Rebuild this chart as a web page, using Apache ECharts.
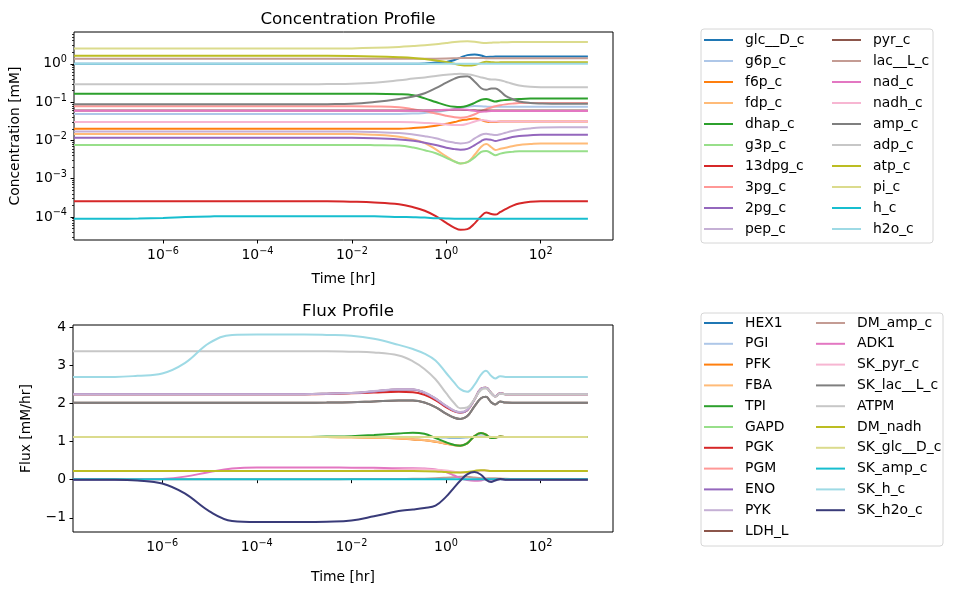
<!DOCTYPE html>
<html>
<head>
<meta charset="utf-8">
<title>Concentration / Flux Profile</title>
<script src="https://cdn.jsdelivr.net/npm/echarts@6.0.0/dist/echarts.min.js"></script>
<style>
html, body { margin: 0; padding: 0; background: #fff; }
#main { width: 954px; height: 590px; }
</style>
</head>
<body>
<div id="main"></div>
<script>
// time points [hr]
var time = [1.3e-8, 1e-7, 3e-7, 1e-6, 3e-6, 1e-5, 3e-5, 1e-4, 3e-4, 1e-3, 3e-3, 0.01, 0.03, 0.1, 0.2, 0.35, 0.6, 1, 1.5, 2, 2.8, 4, 5.5, 7, 9, 11, 14, 18, 25, 35, 60, 100, 250, 1000];

// concentrations [mM]
var glc = [1, 1, 1, 1, 1, 1, 1, 1, 1, 1, 1, 1, 1, 1, 1, 1.02, 1.08, 1.12, 1.25, 1.45, 1.68, 1.75, 1.65, 1.5, 1.52, 1.55, 1.55, 1.55, 1.55, 1.55, 1.55, 1.55, 1.55, 1.55];
var g6p = [0.049, 0.049, 0.049, 0.049, 0.049, 0.049, 0.049, 0.049, 0.049, 0.049, 0.049, 0.049, 0.049, 0.049, 0.05, 0.052, 0.055, 0.06, 0.066, 0.071, 0.076, 0.079, 0.078, 0.076, 0.075, 0.075, 0.075, 0.075, 0.075, 0.075, 0.075, 0.075, 0.075, 0.075];
var f6p = [0.02, 0.02, 0.02, 0.02, 0.02, 0.02, 0.02, 0.02, 0.02, 0.02, 0.02, 0.02, 0.02, 0.02, 0.021, 0.022, 0.024, 0.027, 0.03, 0.033, 0.035, 0.037, 0.034, 0.031, 0.03, 0.03, 0.031, 0.031, 0.031, 0.031, 0.031, 0.031, 0.031, 0.031];
var fdp = [0.0147, 0.0147, 0.0147, 0.0147, 0.0147, 0.0147, 0.0147, 0.0147, 0.0147, 0.0147, 0.0147, 0.0147, 0.014, 0.0125, 0.0105, 0.0085, 0.0058, 0.0038, 0.0028, 0.0025, 0.0027, 0.0042, 0.0068, 0.008, 0.0066, 0.0056, 0.006, 0.0064, 0.007, 0.0076, 0.008, 0.0083, 0.0083, 0.0083];
var dhap = [0.165, 0.165, 0.165, 0.165, 0.165, 0.165, 0.165, 0.165, 0.165, 0.165, 0.165, 0.165, 0.165, 0.16, 0.15, 0.125, 0.1, 0.082, 0.075, 0.074, 0.08, 0.095, 0.115, 0.12, 0.11, 0.103, 0.11, 0.113, 0.116, 0.12, 0.123, 0.123, 0.123, 0.123];
var g3p = [0.0076, 0.0076, 0.0076, 0.0076, 0.0076, 0.0076, 0.0076, 0.0076, 0.0076, 0.0076, 0.0076, 0.0076, 0.0075, 0.0073, 0.0065, 0.0055, 0.0046, 0.0035, 0.0028, 0.0025, 0.0027, 0.0036, 0.005, 0.0053, 0.0046, 0.0041, 0.0045, 0.0048, 0.005, 0.0052, 0.0052, 0.0052, 0.0052, 0.0052];
var dpg13 = [2.55e-4, 2.55e-4, 2.55e-4, 2.55e-4, 2.55e-4, 2.55e-4, 2.55e-4, 2.55e-4, 2.55e-4, 2.55e-4, 2.55e-4, 2.5e-4, 2.4e-4, 2.15e-4, 1.8e-4, 1.45e-4, 1.05e-4, 7e-5, 5.2e-5, 4.6e-5, 4.8e-5, 6.8e-5, 1.05e-4, 1.3e-4, 1.2e-4, 1.15e-4, 1.35e-4, 1.6e-4, 1.95e-4, 2.25e-4, 2.5e-4, 2.55e-4, 2.55e-4, 2.55e-4];
var pg3 = [0.078, 0.078, 0.078, 0.078, 0.078, 0.078, 0.078, 0.078, 0.078, 0.078, 0.078, 0.078, 0.077, 0.073, 0.065, 0.058, 0.05, 0.044, 0.04, 0.039, 0.041, 0.048, 0.058, 0.065, 0.072, 0.078, 0.083, 0.087, 0.091, 0.094, 0.095, 0.095, 0.095, 0.095];
var pg2 = [0.0117, 0.0117, 0.0117, 0.0117, 0.0117, 0.0117, 0.0117, 0.0117, 0.0117, 0.0117, 0.0117, 0.0117, 0.0114, 0.0106, 0.0097, 0.0087, 0.0076, 0.0064, 0.0059, 0.0057, 0.006, 0.0075, 0.0096, 0.0107, 0.0103, 0.0096, 0.0103, 0.011, 0.0122, 0.013, 0.0136, 0.014, 0.014, 0.014];
var pep = [0.017, 0.017, 0.017, 0.017, 0.017, 0.017, 0.017, 0.017, 0.017, 0.017, 0.017, 0.017, 0.0165, 0.0155, 0.0142, 0.0128, 0.0113, 0.0095, 0.0087, 0.0083, 0.0087, 0.0112, 0.014, 0.0148, 0.0142, 0.0138, 0.0145, 0.0158, 0.0175, 0.019, 0.0205, 0.0215, 0.022, 0.022];
var pyr = [0.06, 0.06, 0.06, 0.06, 0.06, 0.06, 0.06, 0.06, 0.06, 0.06, 0.06, 0.06, 0.06, 0.06, 0.06, 0.06, 0.061, 0.062, 0.063, 0.063, 0.062, 0.061, 0.06, 0.06, 0.06, 0.06, 0.06, 0.06, 0.06, 0.06, 0.06, 0.06, 0.06, 0.06];
var lac = [1.36, 1.36, 1.36, 1.36, 1.36, 1.36, 1.36, 1.36, 1.36, 1.36, 1.36, 1.36, 1.36, 1.36, 1.36, 1.36, 1.36, 1.37, 1.39, 1.41, 1.42, 1.42, 1.41, 1.4, 1.4, 1.4, 1.4, 1.4, 1.4, 1.4, 1.4, 1.4, 1.4, 1.4];
var nad = [0.059, 0.059, 0.059, 0.059, 0.059, 0.059, 0.059, 0.059, 0.059, 0.059, 0.059, 0.059, 0.059, 0.059, 0.0595, 0.06, 0.061, 0.0625, 0.0635, 0.064, 0.063, 0.059, 0.056, 0.057, 0.058, 0.058, 0.058, 0.058, 0.058, 0.058, 0.058, 0.058, 0.058, 0.058];
var nadh = [0.03, 0.03, 0.03, 0.03, 0.03, 0.03, 0.03, 0.03, 0.03, 0.03, 0.03, 0.03, 0.03, 0.03, 0.0295, 0.0285, 0.0275, 0.026, 0.025, 0.025, 0.027, 0.031, 0.034, 0.033, 0.031, 0.031, 0.031, 0.031, 0.031, 0.031, 0.031, 0.031, 0.031, 0.031];
var amp = [0.087, 0.087, 0.087, 0.087, 0.087, 0.087, 0.087, 0.087, 0.087, 0.087, 0.088, 0.09, 0.1, 0.12, 0.14, 0.17, 0.23, 0.32, 0.41, 0.46, 0.47, 0.34, 0.23, 0.21, 0.225, 0.225, 0.19, 0.145, 0.12, 0.104, 0.095, 0.092, 0.09, 0.09];
var adp = [0.29, 0.29, 0.29, 0.29, 0.29, 0.29, 0.29, 0.29, 0.29, 0.29, 0.295, 0.3, 0.32, 0.37, 0.41, 0.44, 0.48, 0.52, 0.54, 0.55, 0.53, 0.49, 0.44, 0.41, 0.39, 0.39, 0.37, 0.34, 0.3, 0.27, 0.25, 0.245, 0.245, 0.245];
var atp = [1.62, 1.62, 1.62, 1.62, 1.62, 1.62, 1.62, 1.62, 1.62, 1.62, 1.62, 1.6, 1.55, 1.48, 1.42, 1.33, 1.22, 1.12, 1.0, 0.93, 0.9, 0.93, 1.05, 1.12, 1.1, 1.08, 1.09, 1.1, 1.1, 1.1, 1.1, 1.1, 1.1, 1.1];
var pi = [2.5, 2.5, 2.5, 2.5, 2.5, 2.5, 2.5, 2.5, 2.5, 2.5, 2.5, 2.52, 2.6, 2.75, 2.9, 3.05, 3.25, 3.5, 3.7, 3.8, 3.85, 3.75, 3.55, 3.5, 3.55, 3.6, 3.62, 3.65, 3.68, 3.68, 3.68, 3.68, 3.68, 3.68];
var hc = [9.0e-5, 9.0e-5, 9.1e-5, 9.4e-5, 9.9e-5, 1.03e-4, 1.05e-4, 1.05e-4, 1.05e-4, 1.05e-4, 1.05e-4, 1.05e-4, 1.04e-4, 1.0e-4, 9.8e-5, 9.6e-5, 9.3e-5, 9.1e-5, 9.0e-5, 9.0e-5, 9.0e-5, 9.0e-5, 9.0e-5, 9.0e-5, 9.0e-5, 9.0e-5, 9.0e-5, 9.0e-5, 9.0e-5, 9.0e-5, 9.0e-5, 9.0e-5, 9.0e-5, 9.0e-5];
var h2o = [1, 1, 1, 1, 1, 1, 1, 1, 1, 1, 1, 1, 1, 1, 1, 1, 1, 1, 1, 1, 1, 1, 1, 1, 1, 1, 1, 1, 1, 1, 1, 1, 1, 1];

var concNames = ['glc__D_c', 'g6p_c', 'f6p_c', 'fdp_c', 'dhap_c', 'g3p_c', '13dpg_c', '3pg_c', '2pg_c', 'pep_c',
  'pyr_c', 'lac__L_c', 'nad_c', 'nadh_c', 'amp_c', 'adp_c', 'atp_c', 'pi_c', 'h_c', 'h2o_c'];
var concValues = [glc, g6p, f6p, fdp, dhap, g3p, dpg13, pg3, pg2, pep, pyr, lac, nad, nadh, amp, adp, atp, pi, hc, h2o];

// fluxes [mM/hr]
var hex1 = [1.12, 1.12, 1.12, 1.12, 1.12, 1.12, 1.12, 1.12, 1.12, 1.12, 1.12, 1.12, 1.12, 1.12, 1.12, 1.12, 1.115, 1.11, 1.105, 1.105, 1.11, 1.12, 1.125, 1.125, 1.12, 1.12, 1.12, 1.12, 1.12, 1.12, 1.12, 1.12, 1.12, 1.12];
var pgi = [1.12, 1.12, 1.12, 1.12, 1.12, 1.12, 1.12, 1.12, 1.12, 1.12, 1.12, 1.115, 1.11, 1.09, 1.06, 1.04, 1.0, 0.95, 0.91, 0.895, 0.95, 1.13, 1.2, 1.17, 1.1, 1.1, 1.12, 1.12, 1.12, 1.12, 1.12, 1.12, 1.12, 1.12];
var pfk = [1.12, 1.12, 1.12, 1.12, 1.12, 1.12, 1.12, 1.12, 1.12, 1.12, 1.115, 1.11, 1.1, 1.08, 1.05, 1.03, 0.99, 0.94, 0.9, 0.89, 0.95, 1.14, 1.22, 1.18, 1.09, 1.1, 1.13, 1.12, 1.12, 1.12, 1.12, 1.12, 1.12, 1.12];
var fba = [1.12, 1.12, 1.12, 1.12, 1.12, 1.12, 1.12, 1.12, 1.12, 1.12, 1.115, 1.11, 1.1, 1.08, 1.06, 1.04, 1.0, 0.945, 0.905, 0.89, 0.95, 1.14, 1.22, 1.18, 1.09, 1.1, 1.13, 1.12, 1.12, 1.12, 1.12, 1.12, 1.12, 1.12];
var tpi = [1.12, 1.12, 1.12, 1.12, 1.12, 1.12, 1.12, 1.12, 1.12, 1.12, 1.13, 1.14, 1.17, 1.21, 1.23, 1.2, 1.09, 0.98, 0.91, 0.89, 0.95, 1.14, 1.22, 1.18, 1.09, 1.1, 1.13, 1.12, 1.12, 1.12, 1.12, 1.12, 1.12, 1.12];
var gapd = [2.24, 2.24, 2.24, 2.24, 2.24, 2.24, 2.24, 2.24, 2.24, 2.24, 2.25, 2.27, 2.31, 2.36, 2.36, 2.28, 2.12, 1.93, 1.8, 1.76, 1.82, 2.1, 2.38, 2.41, 2.27, 2.18, 2.26, 2.24, 2.24, 2.24, 2.24, 2.24, 2.24, 2.24];
var pgk = [2.24, 2.24, 2.24, 2.24, 2.24, 2.24, 2.24, 2.24, 2.24, 2.24, 2.245, 2.26, 2.28, 2.3, 2.29, 2.22, 2.08, 1.9, 1.79, 1.76, 1.82, 2.1, 2.38, 2.41, 2.27, 2.18, 2.26, 2.24, 2.24, 2.24, 2.24, 2.24, 2.24, 2.24];
var pgm = [2.24, 2.24, 2.24, 2.24, 2.24, 2.24, 2.24, 2.24, 2.24, 2.24, 2.25, 2.27, 2.31, 2.36, 2.36, 2.28, 2.12, 1.93, 1.8, 1.76, 1.82, 2.1, 2.38, 2.41, 2.27, 2.18, 2.26, 2.24, 2.24, 2.24, 2.24, 2.24, 2.24, 2.24];
var eno = [2.24, 2.24, 2.24, 2.24, 2.24, 2.24, 2.24, 2.24, 2.24, 2.24, 2.25, 2.27, 2.31, 2.36, 2.36, 2.28, 2.12, 1.93, 1.8, 1.76, 1.82, 2.1, 2.38, 2.41, 2.27, 2.18, 2.26, 2.24, 2.24, 2.24, 2.24, 2.24, 2.24, 2.24];
var pyk = [2.24, 2.24, 2.24, 2.24, 2.24, 2.24, 2.24, 2.24, 2.24, 2.24, 2.25, 2.27, 2.32, 2.37, 2.37, 2.29, 2.13, 1.94, 1.81, 1.77, 1.83, 2.1, 2.38, 2.41, 2.27, 2.18, 2.26, 2.24, 2.24, 2.24, 2.24, 2.24, 2.24, 2.24];
var ldh = [2.016, 2.016, 2.016, 2.016, 2.016, 2.016, 2.016, 2.016, 2.016, 2.016, 2.02, 2.03, 2.05, 2.07, 2.07, 2.02, 1.9, 1.73, 1.62, 1.59, 1.66, 1.92, 2.13, 2.17, 2.03, 1.97, 2.05, 2.02, 2.016, 2.016, 2.016, 2.016, 2.016, 2.016];
var dmAmp = [0.014, 0.014, 0.014, 0.014, 0.014, 0.014, 0.014, 0.014, 0.014, 0.014, 0.014, 0.0145, 0.016, 0.019, 0.023, 0.027, 0.037, 0.052, 0.066, 0.074, 0.076, 0.055, 0.037, 0.034, 0.036, 0.036, 0.031, 0.023, 0.019, 0.017, 0.015, 0.015, 0.0145, 0.0145];
var adk1 = [0, 0, 0.005, 0.02, 0.08, 0.2, 0.29, 0.32, 0.32, 0.32, 0.32, 0.315, 0.31, 0.3, 0.3, 0.29, 0.27, 0.2, 0.11, 0.04, -0.01, -0.03, -0.02, 0.01, 0, -0.01, 0.01, 0, 0, 0, 0, 0, 0, 0];
var skPyr = [0.224, 0.224, 0.224, 0.224, 0.224, 0.224, 0.224, 0.224, 0.224, 0.224, 0.224, 0.23, 0.24, 0.26, 0.27, 0.27, 0.26, 0.24, 0.21, 0.19, 0.19, 0.21, 0.24, 0.24, 0.225, 0.224, 0.224, 0.224, 0.224, 0.224, 0.224, 0.224, 0.224, 0.224];
var skLac = [2.016, 2.016, 2.016, 2.016, 2.016, 2.016, 2.016, 2.016, 2.016, 2.016, 2.02, 2.03, 2.05, 2.07, 2.07, 2.02, 1.9, 1.73, 1.62, 1.59, 1.66, 1.92, 2.13, 2.17, 2.03, 1.97, 2.05, 2.02, 2.016, 2.016, 2.016, 2.016, 2.016, 2.016];
var atpm = [3.36, 3.36, 3.36, 3.36, 3.36, 3.36, 3.36, 3.36, 3.36, 3.36, 3.36, 3.35, 3.33, 3.25, 3.1, 2.9, 2.63, 2.27, 2.0, 1.87, 1.89, 2.11, 2.35, 2.39, 2.27, 2.17, 2.25, 2.24, 2.24, 2.24, 2.24, 2.24, 2.24, 2.24];
var dmNadh = [0.224, 0.224, 0.224, 0.224, 0.224, 0.224, 0.224, 0.224, 0.224, 0.224, 0.224, 0.224, 0.224, 0.224, 0.224, 0.222, 0.215, 0.2, 0.19, 0.19, 0.2, 0.23, 0.25, 0.24, 0.225, 0.224, 0.224, 0.224, 0.224, 0.224, 0.224, 0.224, 0.224, 0.224];
var skGlc = [1.12, 1.12, 1.12, 1.12, 1.12, 1.12, 1.12, 1.12, 1.12, 1.12, 1.12, 1.12, 1.12, 1.12, 1.12, 1.12, 1.12, 1.12, 1.12, 1.12, 1.12, 1.12, 1.12, 1.12, 1.12, 1.12, 1.12, 1.12, 1.12, 1.12, 1.12, 1.12, 1.12, 1.12];
var skAmp = [0.014, 0.014, 0.014, 0.014, 0.014, 0.014, 0.014, 0.014, 0.014, 0.014, 0.014, 0.014, 0.014, 0.014, 0.014, 0.014, 0.014, 0.014, 0.014, 0.014, 0.014, 0.014, 0.014, 0.014, 0.014, 0.014, 0.014, 0.014, 0.014, 0.014, 0.014, 0.014, 0.014, 0.014];
var skH = [2.69, 2.69, 2.72, 2.78, 3.05, 3.58, 3.79, 3.8, 3.8, 3.8, 3.79, 3.77, 3.69, 3.53, 3.42, 3.3, 3.12, 2.8, 2.54, 2.37, 2.3, 2.48, 2.75, 2.85, 2.72, 2.65, 2.71, 2.69, 2.69, 2.69, 2.69, 2.69, 2.69, 2.69];
var skH2o = [0, 0, -0.02, -0.1, -0.36, -0.83, -1.08, -1.11, -1.11, -1.11, -1.1, -1.07, -0.96, -0.82, -0.78, -0.74, -0.68, -0.45, -0.2, -0.03, 0.14, 0.2, 0.13, 0, -0.06, -0.02, 0.02, 0, 0, 0, 0, 0, 0, 0];

var fluxNames = ['HEX1', 'PGI', 'PFK', 'FBA', 'TPI', 'GAPD', 'PGK', 'PGM', 'ENO', 'PYK', 'LDH_L',
  'DM_amp_c', 'ADK1', 'SK_pyr_c', 'SK_lac__L_c', 'ATPM', 'DM_nadh', 'SK_glc__D_c', 'SK_amp_c', 'SK_h_c', 'SK_h2o_c'];
var fluxValues = [hex1, pgi, pfk, fba, tpi, gapd, pgk, pgm, eno, pyk, ldh,
  dmAmp, adk1, skPyr, skLac, atpm, dmNadh, skGlc, skAmp, skH, skH2o];

// axis ticks
var timeTicks = [1e-6, 1e-4, 1e-2, 1, 100];
var concTicks = [1e-4, 1e-3, 1e-2, 1e-1, 1];
var fluxTicks = [-1, 0, 1, 2, 3, 4];

var colors = ['#1f77b4', '#aec7e8', '#ff7f0e', '#ffbb78', '#2ca02c', '#98df8a', '#d62728', '#ff9896',
  '#9467bd', '#c5b0d5', '#8c564b', '#c49c94', '#e377c2', '#f7b6d2', '#7f7f7f', '#c7c7c7',
  '#bcbd22', '#dbdb8d', '#17becf', '#9edae5', '#393b79'];

var FONT = 'DejaVu Sans';

// minor ticks of the log concentration axis (2..9 x 10^n)
var concMin = 2.5e-5, concMax = 6.75;
var minorTicks = [];
for (var d = -5; d <= 0; d++) {
  for (var m = 2; m <= 9; m++) {
    var v = m * Math.pow(10, d);
    if (v >= concMin && v <= concMax) minorTicks.push(v);
  }
}

function powLabel(v) {
  var e = Math.round(Math.log10(v));
  return '{b|10}{s|' + (e < 0 ? '\u2212' + (-e) : e) + '}';
}
var powRich = {
  b: { fontSize: 13.9, fontFamily: FONT, color: '#000' },
  s: { fontSize: 9.7, fontFamily: FONT, color: '#000', padding: [0, 0, 8, 0] }
};

function timeAxis(grid, gap) {
  return {
    type: 'log', gridIndex: grid, min: 1.3e-8, max: 3400,
    name: 'Time [hr]', nameLocation: 'middle', nameGap: gap,
    nameTextStyle: { fontSize: 13.9, fontFamily: FONT, color: '#000' },
    axisLine: { show: false },
    axisTick: { customValues: timeTicks, length: 3.5, lineStyle: { color: '#000', width: 1 } },
    axisLabel: { customValues: timeTicks, margin: 6, formatter: powLabel, rich: powRich },
    splitLine: { show: false }
  };
}

var series = [];
concNames.forEach(function (n, i) {
  series.push({
    name: n, type: 'line', xAxisIndex: 0, yAxisIndex: 0,
    data: time.map(function (t, j) { return [t, concValues[i][j]]; }),
    showSymbol: false, smooth: 0.4,
    lineStyle: { width: 2 }, color: colors[i]
  });
});
fluxNames.forEach(function (n, i) {
  series.push({
    name: n, type: 'line', xAxisIndex: 1, yAxisIndex: 2,
    data: time.map(function (t, j) { return [t, fluxValues[i][j]]; }),
    showSymbol: false, smooth: 0.4,
    lineStyle: { width: 2 }, color: colors[i]
  });
});

function legend(names, left, top, gap) {
  return {
    data: names, orient: 'vertical', left: left, top: top, padding: 0,
    icon: 'rect', itemWidth: 29, itemHeight: 2, itemGap: gap,
    selectedMode: false,
    textStyle: { fontSize: 13.9, fontFamily: FONT, color: '#000', lineHeight: 14, padding: [0, 0, 0, 7] }
  };
}

var chart = echarts.init(document.getElementById('main'), null, { renderer: 'canvas' });
var option = {
  animation: false,
  backgroundColor: '#fff',
  title: [
    { text: 'Concentration Profile', left: 343, top: 6, textAlign: 'center',
      textStyle: { fontSize: 16.7, fontWeight: 'normal', fontFamily: FONT, color: '#000' } },
    { text: 'Flux Profile', left: 343, top: 298, textAlign: 'center',
      textStyle: { fontSize: 16.7, fontWeight: 'normal', fontFamily: FONT, color: '#000' } }
  ],
  grid: [
    { left: 73, top: 32, width: 540, height: 208, show: true, borderColor: '#000', borderWidth: 1, backgroundColor: 'transparent' },
    { left: 73, top: 325, width: 540, height: 207, show: true, borderColor: '#000', borderWidth: 1, backgroundColor: 'transparent' }
  ],
  xAxis: [timeAxis(0, 32), timeAxis(1, 38)],
  yAxis: [
    {
      type: 'log', gridIndex: 0, position: 'left', min: concMin, max: concMax,
      name: 'Concentration [mM]', nameLocation: 'middle', nameGap: 52, nameRotate: 90,
      nameTextStyle: { fontSize: 13.9, fontFamily: FONT, color: '#000' },
      axisLine: { show: false },
      axisTick: { customValues: concTicks, length: 3.5, lineStyle: { color: '#000', width: 1 } },
      axisLabel: { customValues: concTicks, margin: 7, formatter: powLabel, rich: powRich },
      splitLine: { show: false }
    },
    {
      type: 'log', gridIndex: 0, position: 'left', min: concMin, max: concMax,
      axisLine: { show: false },
      axisTick: { customValues: minorTicks, length: 2, lineStyle: { color: '#000', width: 0.8 } },
      axisLabel: { show: false },
      splitLine: { show: false }
    },
    {
      type: 'value', gridIndex: 1, position: 'left', min: -1.37, max: 4.05,
      name: 'Flux [mM/hr]', nameLocation: 'middle', nameGap: 40, nameRotate: 90,
      nameTextStyle: { fontSize: 13.9, fontFamily: FONT, color: '#000' },
      axisLine: { show: false },
      axisTick: { customValues: fluxTicks, length: 3.5, lineStyle: { color: '#000', width: 1 } },
      axisLabel: {
        customValues: fluxTicks, margin: 7, fontSize: 13.9, fontFamily: FONT, color: '#000',
        formatter: function (v) { return v < 0 ? '\u2212' + (-v) : String(v); }
      },
      splitLine: { show: false }
    }
  ],
  legend: [
    legend(concNames.slice(0, 10), 704, 33, 7),
    legend(concNames.slice(10), 832, 33, 7),
    legend(fluxNames.slice(0, 11), 704, 316, 6.8),
    legend(fluxNames.slice(11), 816, 316, 6.8)
  ],
  graphic: [
    { type: 'rect', shape: { x: 701, y: 29, width: 232, height: 214, r: 3 },
      style: { fill: 'none', stroke: '#d6d6d6', lineWidth: 1 }, z: -1 },
    { type: 'rect', shape: { x: 701, y: 313, width: 242, height: 233, r: 3 },
      style: { fill: 'none', stroke: '#d6d6d6', lineWidth: 1 }, z: -1 }
  ],
  series: series
};
chart.setOption(option);
window.addEventListener('resize', chart.resize);
</script>
</body>
</html>
